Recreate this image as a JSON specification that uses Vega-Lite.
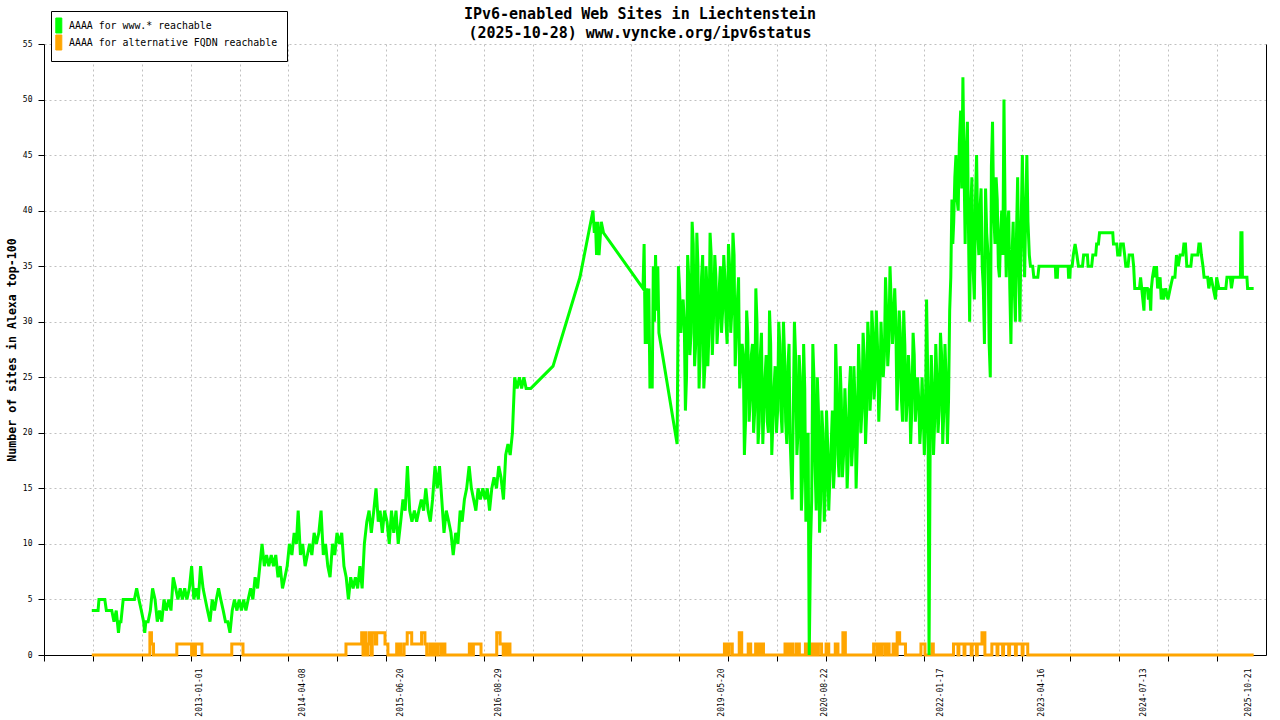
{
"$schema": "https://vega.github.io/schema/vega-lite/v6.json",
"width": 1222, "height": 611,
"autosize": {"type": "none"},
"padding": {"left": 44, "top": 44, "right": 14, "bottom": 65},
"background": "white",
"config": {"view": {"stroke": null}, "font": "DejaVu Sans Mono"},
"title": {"text": ["IPv6-enabled Web Sites in Liechtenstein", "(2025-10-28) www.vyncke.org/ipv6status"], "anchor": "middle", "frame": "group", "dx": -15, "dy": 38, "offset": 8, "fontSize": 15, "font": "DejaVu Sans Mono", "fontWeight": "bold", "lineHeight": 19, "color": "black"},
"datasets": {
"www": [
{"date":"2011-08-24","n":4},{"date":"2011-09-01","n":4},{"date":"2011-09-11","n":4},{"date":"2011-09-21","n":4},{"date":"2011-09-25","n":5},{"date":"2011-10-01","n":5},{"date":"2011-10-11","n":5},{"date":"2011-10-21","n":5},{"date":"2011-10-28","n":4},{"date":"2011-11-11","n":4},{"date":"2011-11-21","n":4},{"date":"2011-12-01","n":3},{"date":"2011-12-11","n":4},{"date":"2011-12-21","n":2},{"date":"2011-12-26","n":3},
{"date":"2012-01-01","n":3},{"date":"2012-01-11","n":5},{"date":"2012-02-01","n":5},{"date":"2012-02-21","n":5},{"date":"2012-03-01","n":5},{"date":"2012-03-11","n":6},{"date":"2012-03-21","n":5},{"date":"2012-04-01","n":4},{"date":"2012-04-11","n":3},{"date":"2012-04-16","n":2},{"date":"2012-04-21","n":3},{"date":"2012-05-01","n":3},{"date":"2012-05-11","n":4},{"date":"2012-05-21","n":6},{"date":"2012-06-01","n":5},{"date":"2012-06-11","n":3},{"date":"2012-06-21","n":4},{"date":"2012-07-01","n":3},{"date":"2012-07-11","n":5},{"date":"2012-07-21","n":4},{"date":"2012-08-01","n":5},{"date":"2012-08-11","n":4},{"date":"2012-08-21","n":7},{"date":"2012-09-01","n":6},{"date":"2012-09-11","n":5},{"date":"2012-09-21","n":6},{"date":"2012-10-01","n":5},{"date":"2012-10-11","n":6},{"date":"2012-10-21","n":5},{"date":"2012-11-01","n":6},{"date":"2012-11-11","n":8},{"date":"2012-11-21","n":5},{"date":"2012-12-01","n":6},{"date":"2012-12-11","n":5},{"date":"2012-12-21","n":8},
{"date":"2013-01-01","n":6},{"date":"2013-01-11","n":5},{"date":"2013-01-21","n":4},{"date":"2013-02-01","n":3},{"date":"2013-02-11","n":5},{"date":"2013-02-21","n":4},{"date":"2013-03-01","n":5},{"date":"2013-03-11","n":6},{"date":"2013-03-21","n":5},{"date":"2013-04-01","n":4},{"date":"2013-04-11","n":3},{"date":"2013-04-21","n":3},{"date":"2013-05-01","n":2},{"date":"2013-05-11","n":4},{"date":"2013-05-21","n":5},{"date":"2013-06-01","n":4},{"date":"2013-06-11","n":5},{"date":"2013-06-21","n":4},{"date":"2013-07-01","n":5},{"date":"2013-07-11","n":4},{"date":"2013-07-21","n":5},{"date":"2013-08-01","n":6},{"date":"2013-08-11","n":5},{"date":"2013-08-21","n":7},{"date":"2013-09-01","n":6},{"date":"2013-09-11","n":8},{"date":"2013-09-21","n":10},{"date":"2013-10-01","n":8},{"date":"2013-10-11","n":9},{"date":"2013-10-21","n":8},{"date":"2013-11-01","n":9},{"date":"2013-11-11","n":8},{"date":"2013-11-21","n":9},{"date":"2013-12-01","n":7},{"date":"2013-12-11","n":8},{"date":"2013-12-21","n":6},
{"date":"2014-01-01","n":7},{"date":"2014-01-11","n":8},{"date":"2014-01-21","n":10},{"date":"2014-02-01","n":9},{"date":"2014-02-11","n":11},{"date":"2014-02-21","n":10},{"date":"2014-03-01","n":13},{"date":"2014-03-11","n":9},{"date":"2014-03-21","n":10},{"date":"2014-04-01","n":8},{"date":"2014-04-11","n":9},{"date":"2014-04-21","n":10},{"date":"2014-05-01","n":9},{"date":"2014-05-11","n":11},{"date":"2014-05-21","n":10},{"date":"2014-06-01","n":11},{"date":"2014-06-11","n":13},{"date":"2014-06-21","n":9},{"date":"2014-07-01","n":10},{"date":"2014-07-11","n":8},{"date":"2014-07-21","n":7},{"date":"2014-08-01","n":10},{"date":"2014-08-11","n":9},{"date":"2014-08-21","n":11},{"date":"2014-09-01","n":10},{"date":"2014-09-11","n":11},{"date":"2014-09-21","n":8},{"date":"2014-10-01","n":7},{"date":"2014-10-11","n":5},{"date":"2014-10-21","n":7},{"date":"2014-11-01","n":6},{"date":"2014-11-11","n":7},{"date":"2014-11-21","n":6},{"date":"2014-12-01","n":8},{"date":"2014-12-11","n":6},{"date":"2014-12-21","n":10},
{"date":"2015-01-01","n":12},{"date":"2015-01-11","n":13},{"date":"2015-01-21","n":11},{"date":"2015-02-01","n":13},{"date":"2015-02-11","n":15},{"date":"2015-02-21","n":12},{"date":"2015-03-01","n":13},{"date":"2015-03-11","n":11},{"date":"2015-03-21","n":13},{"date":"2015-04-01","n":12},{"date":"2015-04-11","n":10},{"date":"2015-04-21","n":13},{"date":"2015-05-01","n":11},{"date":"2015-05-11","n":13},{"date":"2015-05-21","n":10},{"date":"2015-06-01","n":12},{"date":"2015-06-11","n":14},{"date":"2015-06-21","n":13},{"date":"2015-07-01","n":17},{"date":"2015-07-11","n":13},{"date":"2015-07-21","n":12},{"date":"2015-08-01","n":13},{"date":"2015-08-11","n":12},{"date":"2015-08-21","n":13},{"date":"2015-09-01","n":14},{"date":"2015-09-11","n":13},{"date":"2015-09-21","n":15},{"date":"2015-10-01","n":13},{"date":"2015-10-11","n":12},{"date":"2015-10-21","n":14},{"date":"2015-11-01","n":17},{"date":"2015-11-11","n":15},{"date":"2015-11-21","n":17},{"date":"2015-12-01","n":14},{"date":"2015-12-11","n":11},{"date":"2015-12-21","n":13},
{"date":"2016-01-01","n":12},{"date":"2016-01-11","n":11},{"date":"2016-01-21","n":9},{"date":"2016-02-01","n":11},{"date":"2016-02-11","n":10},{"date":"2016-02-21","n":13},{"date":"2016-03-01","n":12},{"date":"2016-03-11","n":14},{"date":"2016-03-21","n":15},{"date":"2016-04-01","n":17},{"date":"2016-04-11","n":15},{"date":"2016-04-21","n":14},{"date":"2016-05-01","n":13},{"date":"2016-05-11","n":15},{"date":"2016-05-21","n":14},{"date":"2016-06-01","n":15},{"date":"2016-06-11","n":14},{"date":"2016-06-21","n":15},{"date":"2016-07-01","n":13},{"date":"2016-07-11","n":15},{"date":"2016-07-21","n":16},{"date":"2016-08-01","n":15},{"date":"2016-08-11","n":17},{"date":"2016-08-21","n":16},{"date":"2016-09-01","n":14},{"date":"2016-09-11","n":18},{"date":"2016-09-21","n":19},{"date":"2016-10-01","n":18},{"date":"2016-10-11","n":20},{"date":"2016-10-21","n":25},{"date":"2016-11-01","n":24},{"date":"2016-11-11","n":25},{"date":"2016-11-21","n":24},{"date":"2016-12-01","n":25},{"date":"2016-12-11","n":24},{"date":"2016-12-21","n":24},
{"date":"2017-01-01","n":24},{"date":"2017-04-10","n":26},{"date":"2017-08-08","n":34},{"date":"2017-10-05","n":40},{"date":"2017-10-11","n":38},{"date":"2017-10-16","n":39},{"date":"2017-10-21","n":36},{"date":"2017-10-26","n":39},{"date":"2017-11-01","n":36},{"date":"2017-11-11","n":39},{"date":"2017-11-21","n":38},
{"date":"2018-05-16","n":33},{"date":"2018-05-21","n":37},{"date":"2018-05-26","n":28},{"date":"2018-06-01","n":33},{"date":"2018-06-06","n":28},{"date":"2018-06-11","n":33},{"date":"2018-06-16","n":24},{"date":"2018-06-21","n":27},{"date":"2018-06-26","n":24},{"date":"2018-07-01","n":35},{"date":"2018-07-06","n":30},{"date":"2018-07-11","n":36},{"date":"2018-07-16","n":31},{"date":"2018-07-21","n":35},{"date":"2018-07-26","n":29},{"date":"2018-10-15","n":19},
{"date":"2018-10-21","n":35},{"date":"2018-10-26","n":33},{"date":"2018-11-01","n":29},{"date":"2018-11-06","n":31},{"date":"2018-11-11","n":32},{"date":"2018-11-16","n":30},{"date":"2018-11-21","n":22},{"date":"2018-11-26","n":25},{"date":"2018-12-01","n":36},{"date":"2018-12-06","n":34},{"date":"2018-12-11","n":27},{"date":"2018-12-16","n":29},{"date":"2018-12-21","n":39},{"date":"2018-12-26","n":37},
{"date":"2019-01-01","n":26},{"date":"2019-01-06","n":28},{"date":"2019-01-11","n":38},{"date":"2019-01-16","n":35},{"date":"2019-01-21","n":24},{"date":"2019-01-26","n":27},{"date":"2019-02-01","n":34},{"date":"2019-02-06","n":36},{"date":"2019-02-11","n":24},{"date":"2019-02-16","n":26},{"date":"2019-02-21","n":35},{"date":"2019-02-25","n":33},{"date":"2019-03-01","n":26},{"date":"2019-03-06","n":29},{"date":"2019-03-11","n":38},{"date":"2019-03-16","n":36},{"date":"2019-03-21","n":27},{"date":"2019-03-26","n":30},{"date":"2019-04-01","n":36},{"date":"2019-04-06","n":34},{"date":"2019-04-11","n":28},{"date":"2019-04-16","n":30},{"date":"2019-04-21","n":33},{"date":"2019-04-26","n":35},{"date":"2019-05-01","n":29},{"date":"2019-05-06","n":31},{"date":"2019-05-11","n":36},{"date":"2019-05-16","n":34},{"date":"2019-05-21","n":30},{"date":"2019-05-26","n":28},{"date":"2019-06-01","n":37},{"date":"2019-06-06","n":35},{"date":"2019-06-11","n":29},{"date":"2019-06-16","n":31},{"date":"2019-06-21","n":38},{"date":"2019-06-26","n":36},{"date":"2019-07-01","n":26},{"date":"2019-07-06","n":29},{"date":"2019-07-11","n":32},{"date":"2019-07-16","n":34},{"date":"2019-07-21","n":24},{"date":"2019-07-26","n":26},{"date":"2019-08-01","n":28},{"date":"2019-08-06","n":27},{"date":"2019-08-11","n":18},{"date":"2019-08-16","n":21},{"date":"2019-08-21","n":31},{"date":"2019-08-26","n":29},{"date":"2019-09-01","n":21},{"date":"2019-09-06","n":23},{"date":"2019-09-11","n":27},{"date":"2019-09-16","n":28},{"date":"2019-09-21","n":20},{"date":"2019-09-26","n":22},{"date":"2019-10-01","n":33},{"date":"2019-10-06","n":30},{"date":"2019-10-11","n":19},{"date":"2019-10-16","n":21},{"date":"2019-10-21","n":27},{"date":"2019-10-26","n":29},{"date":"2019-11-01","n":19},{"date":"2019-11-06","n":22},{"date":"2019-11-11","n":25},{"date":"2019-11-16","n":27},{"date":"2019-11-21","n":21},{"date":"2019-11-26","n":20},{"date":"2019-12-01","n":31},{"date":"2019-12-06","n":28},{"date":"2019-12-11","n":18},{"date":"2019-12-16","n":21},{"date":"2019-12-21","n":24},{"date":"2019-12-26","n":26},
{"date":"2020-01-01","n":20},{"date":"2020-01-06","n":22},{"date":"2020-01-11","n":30},{"date":"2020-01-16","n":28},{"date":"2020-01-21","n":22},{"date":"2020-01-26","n":20},{"date":"2020-02-01","n":30},{"date":"2020-02-06","n":27},{"date":"2020-02-11","n":21},{"date":"2020-02-16","n":19},{"date":"2020-02-21","n":26},{"date":"2020-02-26","n":28},{"date":"2020-03-01","n":20},{"date":"2020-03-06","n":17},{"date":"2020-03-11","n":14},{"date":"2020-03-16","n":22},{"date":"2020-03-21","n":30},{"date":"2020-03-26","n":27},{"date":"2020-04-01","n":18},{"date":"2020-04-06","n":20},{"date":"2020-04-11","n":27},{"date":"2020-04-16","n":25},{"date":"2020-04-21","n":13},{"date":"2020-04-26","n":16},{"date":"2020-05-01","n":28},{"date":"2020-05-06","n":24},{"date":"2020-05-11","n":12},{"date":"2020-05-16","n":15},{"date":"2020-05-21","n":20},{"date":"2020-05-26","n":0},{"date":"2020-06-01","n":10},{"date":"2020-06-06","n":14},{"date":"2020-06-11","n":28},{"date":"2020-06-16","n":25},{"date":"2020-06-21","n":17},{"date":"2020-06-26","n":13},{"date":"2020-07-01","n":25},{"date":"2020-07-06","n":22},{"date":"2020-07-11","n":11},{"date":"2020-07-16","n":14},{"date":"2020-07-21","n":22},{"date":"2020-07-26","n":20},{"date":"2020-08-01","n":12},{"date":"2020-08-06","n":15},{"date":"2020-08-11","n":22},{"date":"2020-08-16","n":19},{"date":"2020-08-21","n":13},{"date":"2020-08-26","n":16},{"date":"2020-09-01","n":19},{"date":"2020-09-06","n":22},{"date":"2020-09-11","n":15},{"date":"2020-09-16","n":17},{"date":"2020-09-21","n":28},{"date":"2020-09-26","n":24},{"date":"2020-10-01","n":18},{"date":"2020-10-06","n":16},{"date":"2020-10-11","n":26},{"date":"2020-10-16","n":23},{"date":"2020-10-21","n":16},{"date":"2020-10-26","n":18},{"date":"2020-11-01","n":24},{"date":"2020-11-06","n":21},{"date":"2020-11-11","n":15},{"date":"2020-11-16","n":18},{"date":"2020-11-21","n":24},{"date":"2020-11-26","n":26},{"date":"2020-12-01","n":17},{"date":"2020-12-06","n":19},{"date":"2020-12-11","n":26},{"date":"2020-12-16","n":23},{"date":"2020-12-21","n":15},{"date":"2020-12-26","n":19},
{"date":"2021-01-01","n":28},{"date":"2021-01-06","n":25},{"date":"2021-01-11","n":20},{"date":"2021-01-16","n":22},{"date":"2021-01-21","n":29},{"date":"2021-01-26","n":27},{"date":"2021-02-01","n":19},{"date":"2021-02-06","n":22},{"date":"2021-02-11","n":30},{"date":"2021-02-16","n":28},{"date":"2021-02-21","n":22},{"date":"2021-02-25","n":24},{"date":"2021-03-01","n":31},{"date":"2021-03-06","n":29},{"date":"2021-03-11","n":23},{"date":"2021-03-16","n":25},{"date":"2021-03-21","n":31},{"date":"2021-03-26","n":28},{"date":"2021-04-01","n":21},{"date":"2021-04-06","n":24},{"date":"2021-04-11","n":30},{"date":"2021-04-16","n":27},{"date":"2021-04-21","n":25},{"date":"2021-04-26","n":27},{"date":"2021-05-01","n":34},{"date":"2021-05-06","n":31},{"date":"2021-05-11","n":26},{"date":"2021-05-16","n":28},{"date":"2021-05-21","n":35},{"date":"2021-05-26","n":32},{"date":"2021-06-01","n":28},{"date":"2021-06-06","n":30},{"date":"2021-06-11","n":33},{"date":"2021-06-16","n":30},{"date":"2021-06-21","n":22},{"date":"2021-06-26","n":25},{"date":"2021-07-01","n":31},{"date":"2021-07-06","n":29},{"date":"2021-07-11","n":23},{"date":"2021-07-16","n":21},{"date":"2021-07-21","n":31},{"date":"2021-07-26","n":28},{"date":"2021-08-01","n":21},{"date":"2021-08-06","n":23},{"date":"2021-08-11","n":27},{"date":"2021-08-16","n":25},{"date":"2021-08-21","n":19},{"date":"2021-08-26","n":22},{"date":"2021-09-01","n":29},{"date":"2021-09-06","n":27},{"date":"2021-09-11","n":21},{"date":"2021-09-16","n":23},{"date":"2021-09-21","n":25},{"date":"2021-09-26","n":23},{"date":"2021-10-01","n":19},{"date":"2021-10-06","n":21},{"date":"2021-10-11","n":25},{"date":"2021-10-16","n":22},{"date":"2021-10-21","n":18},{"date":"2021-10-26","n":21},{"date":"2021-10-31","n":32},{"date":"2021-11-03","n":28},{"date":"2021-11-06","n":24},{"date":"2021-11-11","n":0},{"date":"2021-11-16","n":19},{"date":"2021-11-21","n":27},{"date":"2021-11-26","n":24},{"date":"2021-12-01","n":18},{"date":"2021-12-06","n":21},{"date":"2021-12-11","n":28},{"date":"2021-12-16","n":25},{"date":"2021-12-21","n":20},{"date":"2021-12-26","n":22},
{"date":"2022-01-01","n":29},{"date":"2022-01-06","n":27},{"date":"2022-01-11","n":19},{"date":"2022-01-16","n":22},{"date":"2022-01-21","n":28},{"date":"2022-01-26","n":25},{"date":"2022-02-01","n":19},{"date":"2022-02-06","n":23},{"date":"2022-02-11","n":31},{"date":"2022-02-16","n":34},{"date":"2022-02-21","n":41},{"date":"2022-02-25","n":37},{"date":"2022-03-01","n":39},{"date":"2022-03-06","n":43},{"date":"2022-03-11","n":45},{"date":"2022-03-16","n":41},{"date":"2022-03-21","n":40},{"date":"2022-03-26","n":46},{"date":"2022-04-01","n":49},{"date":"2022-04-06","n":42},{"date":"2022-04-11","n":52},{"date":"2022-04-16","n":44},{"date":"2022-04-21","n":37},{"date":"2022-04-26","n":45},{"date":"2022-05-01","n":48},{"date":"2022-05-06","n":38},{"date":"2022-05-11","n":30},{"date":"2022-05-16","n":40},{"date":"2022-05-21","n":43},{"date":"2022-05-26","n":35},{"date":"2022-06-01","n":32},{"date":"2022-06-06","n":41},{"date":"2022-06-11","n":45},{"date":"2022-06-16","n":38},{"date":"2022-06-21","n":36},{"date":"2022-06-26","n":40},{"date":"2022-07-01","n":42},{"date":"2022-07-06","n":35},{"date":"2022-07-11","n":33},{"date":"2022-07-16","n":28},{"date":"2022-07-21","n":42},{"date":"2022-07-26","n":38},{"date":"2022-08-01","n":36},{"date":"2022-08-06","n":28},{"date":"2022-08-11","n":25},{"date":"2022-08-16","n":44},{"date":"2022-08-21","n":48},{"date":"2022-08-26","n":40},{"date":"2022-09-01","n":37},{"date":"2022-09-06","n":43},{"date":"2022-09-11","n":41},{"date":"2022-09-16","n":35},{"date":"2022-09-21","n":34},{"date":"2022-09-26","n":38},{"date":"2022-10-01","n":40},{"date":"2022-10-06","n":36},{"date":"2022-10-11","n":50},{"date":"2022-10-16","n":40},{"date":"2022-10-21","n":34},{"date":"2022-10-26","n":38},{"date":"2022-11-01","n":40},{"date":"2022-11-06","n":33},{"date":"2022-11-11","n":28},{"date":"2022-11-16","n":36},{"date":"2022-11-21","n":39},{"date":"2022-11-26","n":33},{"date":"2022-12-01","n":30},{"date":"2022-12-06","n":38},{"date":"2022-12-11","n":43},{"date":"2022-12-16","n":35},{"date":"2022-12-21","n":30},{"date":"2022-12-26","n":38},
{"date":"2023-01-01","n":45},{"date":"2023-01-06","n":38},{"date":"2023-01-11","n":34},{"date":"2023-01-16","n":40},{"date":"2023-01-21","n":45},{"date":"2023-01-26","n":39},{"date":"2023-02-01","n":36},{"date":"2023-02-06","n":35},{"date":"2023-02-16","n":35},{"date":"2023-02-21","n":34},{"date":"2023-03-11","n":34},{"date":"2023-03-16","n":35},{"date":"2023-05-28","n":35},{"date":"2023-05-30","n":34},{"date":"2023-06-06","n":34},{"date":"2023-06-08","n":35},{"date":"2023-07-24","n":35},{"date":"2023-07-26","n":34},{"date":"2023-08-01","n":34},{"date":"2023-08-03","n":35},{"date":"2023-08-11","n":35},{"date":"2023-08-16","n":36},{"date":"2023-08-24","n":37},{"date":"2023-09-01","n":36},{"date":"2023-09-08","n":35},{"date":"2023-09-26","n":35},{"date":"2023-10-01","n":36},{"date":"2023-10-18","n":36},{"date":"2023-10-21","n":35},{"date":"2023-11-06","n":35},{"date":"2023-11-11","n":36},{"date":"2023-11-24","n":36},{"date":"2023-11-28","n":37},{"date":"2023-12-06","n":37},{"date":"2023-12-11","n":38},
{"date":"2024-02-08","n":38},{"date":"2024-02-11","n":37},{"date":"2024-02-26","n":37},{"date":"2024-03-01","n":36},{"date":"2024-03-11","n":36},{"date":"2024-03-14","n":37},{"date":"2024-03-26","n":37},{"date":"2024-04-01","n":36},{"date":"2024-04-06","n":35},{"date":"2024-04-16","n":35},{"date":"2024-04-21","n":36},{"date":"2024-05-06","n":36},{"date":"2024-05-11","n":35},{"date":"2024-05-16","n":33},{"date":"2024-06-06","n":33},{"date":"2024-06-11","n":34},{"date":"2024-06-16","n":33},{"date":"2024-06-21","n":32},{"date":"2024-06-26","n":31},{"date":"2024-06-29","n":33},{"date":"2024-07-11","n":33},{"date":"2024-07-16","n":32},{"date":"2024-07-21","n":33},{"date":"2024-07-26","n":31},{"date":"2024-07-29","n":33},{"date":"2024-08-03","n":34},{"date":"2024-08-11","n":35},{"date":"2024-08-16","n":34},{"date":"2024-08-21","n":35},{"date":"2024-08-26","n":33},{"date":"2024-09-06","n":34},{"date":"2024-09-11","n":32},{"date":"2024-09-16","n":33},{"date":"2024-09-21","n":32},{"date":"2024-10-01","n":33},{"date":"2024-10-11","n":32},{"date":"2024-10-21","n":33},{"date":"2024-11-01","n":34},{"date":"2024-11-11","n":34},{"date":"2024-11-18","n":36},{"date":"2024-11-26","n":35},{"date":"2024-12-04","n":36},{"date":"2024-12-16","n":36},{"date":"2024-12-21","n":37},{"date":"2024-12-28","n":37},
{"date":"2025-01-03","n":35},{"date":"2025-01-21","n":35},{"date":"2025-01-26","n":36},{"date":"2025-02-21","n":36},{"date":"2025-02-26","n":37},{"date":"2025-03-04","n":37},{"date":"2025-03-09","n":36},{"date":"2025-03-16","n":35},{"date":"2025-03-21","n":34},{"date":"2025-04-06","n":34},{"date":"2025-04-11","n":33},{"date":"2025-04-21","n":34},{"date":"2025-05-01","n":33},{"date":"2025-05-11","n":32},{"date":"2025-05-16","n":34},{"date":"2025-05-26","n":33},{"date":"2025-06-26","n":33},{"date":"2025-07-01","n":34},{"date":"2025-07-16","n":34},{"date":"2025-07-21","n":33},{"date":"2025-07-28","n":34},{"date":"2025-08-30","n":34},{"date":"2025-09-01","n":38},{"date":"2025-09-06","n":38},{"date":"2025-09-08","n":34},{"date":"2025-09-28","n":34},{"date":"2025-10-01","n":33},{"date":"2025-10-28","n":33}
],
"alt": [
{"date":"2011-08-24","n":0},{"date":"2012-05-09","n":2},{"date":"2012-05-16","n":1},{"date":"2012-05-25","n":0},{"date":"2012-09-06","n":1},{"date":"2012-11-11","n":0},{"date":"2012-11-16","n":1},{"date":"2012-11-20","n":0},{"date":"2012-11-28","n":1},{"date":"2012-12-27","n":0},{"date":"2013-05-09","n":1},{"date":"2013-06-28","n":0},
{"date":"2014-09-30","n":1},{"date":"2014-12-09","n":2},{"date":"2014-12-15","n":0},{"date":"2014-12-22","n":2},{"date":"2014-12-28","n":0},{"date":"2015-01-04","n":1},{"date":"2015-01-12","n":2},{"date":"2015-01-19","n":0},{"date":"2015-01-25","n":2},{"date":"2015-02-08","n":1},{"date":"2015-02-14","n":2},{"date":"2015-03-23","n":1},{"date":"2015-04-05","n":0},{"date":"2015-05-14","n":1},{"date":"2015-05-24","n":0},{"date":"2015-05-29","n":1},{"date":"2015-06-02","n":0},{"date":"2015-06-16","n":1},{"date":"2015-06-30","n":2},{"date":"2015-07-20","n":1},{"date":"2015-09-02","n":2},{"date":"2015-09-17","n":1},{"date":"2015-09-25","n":0},{"date":"2015-10-09","n":1},{"date":"2015-10-16","n":0},{"date":"2015-10-25","n":1},{"date":"2015-11-01","n":0},{"date":"2015-11-14","n":1},{"date":"2015-11-28","n":0},{"date":"2015-12-04","n":1},{"date":"2015-12-15","n":0},
{"date":"2016-04-02","n":1},{"date":"2016-04-14","n":0},{"date":"2016-04-20","n":1},{"date":"2016-05-24","n":0},{"date":"2016-08-02","n":2},{"date":"2016-08-17","n":1},{"date":"2016-08-31","n":0},{"date":"2016-09-08","n":1},{"date":"2016-09-15","n":0},{"date":"2016-09-21","n":1},{"date":"2016-09-30","n":0},
{"date":"2019-05-14","n":1},{"date":"2019-05-25","n":0},{"date":"2019-06-04","n":1},{"date":"2019-06-18","n":0},{"date":"2019-07-19","n":2},{"date":"2019-07-30","n":0},{"date":"2019-08-28","n":1},{"date":"2019-09-08","n":0},{"date":"2019-09-30","n":1},{"date":"2019-10-11","n":0},{"date":"2019-10-23","n":1},{"date":"2019-11-04","n":0},
{"date":"2020-02-08","n":1},{"date":"2020-02-21","n":0},{"date":"2020-03-02","n":1},{"date":"2020-03-15","n":0},{"date":"2020-03-30","n":1},{"date":"2020-04-12","n":0},{"date":"2020-05-09","n":1},{"date":"2020-05-18","n":0},{"date":"2020-05-26","n":1},{"date":"2020-06-05","n":0},{"date":"2020-06-14","n":1},{"date":"2020-06-27","n":0},{"date":"2020-07-06","n":1},{"date":"2020-07-20","n":0},{"date":"2020-08-09","n":1},{"date":"2020-08-21","n":0},{"date":"2020-09-19","n":1},{"date":"2020-10-01","n":0},{"date":"2020-10-23","n":2},{"date":"2020-11-03","n":0},
{"date":"2021-03-09","n":1},{"date":"2021-03-23","n":0},{"date":"2021-03-29","n":1},{"date":"2021-04-10","n":0},{"date":"2021-04-15","n":1},{"date":"2021-04-29","n":0},{"date":"2021-05-04","n":1},{"date":"2021-05-17","n":0},{"date":"2021-06-04","n":1},{"date":"2021-06-15","n":0},{"date":"2021-06-22","n":2},{"date":"2021-07-03","n":1},{"date":"2021-07-29","n":0},{"date":"2021-10-06","n":1},{"date":"2021-10-24","n":0},{"date":"2021-11-24","n":1},{"date":"2021-11-30","n":0},
{"date":"2022-02-28","n":1},{"date":"2022-03-20","n":0},{"date":"2022-03-24","n":1},{"date":"2022-04-16","n":0},{"date":"2022-04-20","n":1},{"date":"2022-05-18","n":0},{"date":"2022-05-22","n":1},{"date":"2022-06-10","n":0},{"date":"2022-06-14","n":1},{"date":"2022-07-05","n":2},{"date":"2022-07-18","n":0},{"date":"2022-08-18","n":1},{"date":"2022-09-10","n":0},{"date":"2022-09-14","n":1},{"date":"2022-10-05","n":0},{"date":"2022-10-09","n":1},{"date":"2022-11-01","n":0},{"date":"2022-11-05","n":1},{"date":"2022-12-01","n":0},{"date":"2022-12-05","n":1},{"date":"2022-12-31","n":0},{"date":"2023-01-04","n":1},{"date":"2023-01-25","n":0},{"date":"2025-10-28","n":0}
]
},
"encoding": {
"x": {"field": "date", "type": "temporal",
 "scale": {"type": "utc", "domain": [1295740800000, 1766361600000], "nice": false},
 "axis": {
  "title": null,
  "values": [1295740800000,1314565632000,1333390464000,1352215296000,1371040128000,1389864960000,1408689792000,1427514624000,1446339456000,1465164288000,1483989120000,1502813952000,1521638784000,1540463616000,1559288448000,1578113280000,1596938112000,1615762944000,1634587776000,1653412608000,1672237440000,1691062272000,1709887104000,1728711936000,1747536768000,1356998400000,1396915200000,1434758400000,1472428800000,1558310400000,1598054400000,1642377600000,1681603200000,1720828800000,1761004800000],
  "labelExpr": "indexof(['2013-01-01','2014-04-08','2015-06-20','2016-08-29','2019-05-20','2020-08-22','2022-01-17','2023-04-16','2024-07-13','2025-10-21'], utcFormat(datum.value, '%Y-%m-%d')) >= 0 ? utcFormat(datum.value, '%Y-%m-%d') : ''",
  "labelAngle": 270, "labelAlign": "right", "labelBaseline": "middle",
  "labelFont": "DejaVu Sans Mono", "labelFontSize": 8, "labelColor": "black",
  "labelPadding": 7, "labelOffset": -4, "labelOverlap": false, "labelFlush": false, "labelBound": false,
  "tickSize": 6, "tickColor": "black",
  "tickOpacity": {"condition": {"test": "indexof(['2013-01-01','2014-04-08','2015-06-20','2016-08-29','2019-05-20','2020-08-22','2022-01-17','2023-04-16','2024-07-13','2025-10-21'], utcFormat(datum.value, '%Y-%m-%d')) >= 0", "value": 0}, "value": 1},
  "grid": true, "gridColor": "#c0c0c0", "gridDash": [2, 3],
  "gridOpacity": {"condition": {"test": "indexof(['2013-01-01','2014-04-08','2015-06-20','2016-08-29','2019-05-20','2020-08-22','2022-01-17','2023-04-16','2024-07-13','2025-10-21'], utcFormat(datum.value, '%Y-%m-%d')) >= 0 || +datum.value <= 1295740800000", "value": 0}, "value": 1},
  "domainColor": "black"
 }
}
},
"layer": [
{
 "data": {"name": "alt"},
 "mark": {"type": "line", "interpolate": "step-after", "strokeWidth": 3},
 "encoding": {
  "y": {"field": "n", "type": "quantitative", "scale": {"domain": [0, 55], "nice": false},
   "axis": {"orient": "right", "title": null, "labels": false, "ticks": false, "grid": false, "domain": true, "domainColor": "black"}},
  "color": {"datum": "AAAA for alternative FQDN reachable", "type": "nominal",
   "scale": {"domain": ["AAAA for www.* reachable", "AAAA for alternative FQDN reachable"], "range": ["#00ff00", "#ffa500"]},
   "legend": {"orient": "none", "legendX": 7, "legendY": -33, "title": null, "direction": "vertical",
    "padding": 9, "strokeColor": "black", "fillColor": "white", "cornerRadius": 0,
    "labelFont": "DejaVu Sans Mono", "labelFontSize": 9.9, "labelColor": "black", "labelOffset": -2, "labelLimit": 400,
    "symbolType": "M-1.94,-1.5H-0.74V1.5H-1.94Z", "symbolSize": 100, "rowPadding": -2,
    "symbolStrokeColor": "black", "symbolStrokeWidth": 1,
    "encode": {"symbols": {"update": {"fill": {"scale": "color", "field": "value"}, "stroke": {"value": "black"}, "strokeWidth": {"value": 1}, "opacity": {"value": 1}}}}}
  }
 }
},
{
 "data": {"name": "www"},
 "mark": {"type": "line", "strokeWidth": 3},
 "encoding": {
  "y": {"field": "n", "type": "quantitative", "scale": {"domain": [0, 55], "nice": false},
   "axis": {"orient": "left", "values": [0,5,10,15,20,25,30,35,40,45,50,55],
    "title": "Number of sites in Alexa top-100", "titleFont": "DejaVu Sans Mono", "titleFontSize": 11.6, "titleFontWeight": "bold", "titleColor": "black",
    "titleX": -32, "titleY": 305.5, "titleAngle": 270, "titleAlign": "center", "titleBaseline": "middle",
    "labelFont": "DejaVu Sans Mono", "labelFontSize": 8, "labelColor": "black", "labelPadding": 6,
    "tickSize": 6, "tickColor": "black", "domainColor": "black",
    "grid": true, "gridColor": "#c0c0c0", "gridDash": [2, 3]}},
  "color": {"datum": "AAAA for www.* reachable", "type": "nominal"}
 }
}
],
"resolve": {"axis": {"y": "independent"}}
}
